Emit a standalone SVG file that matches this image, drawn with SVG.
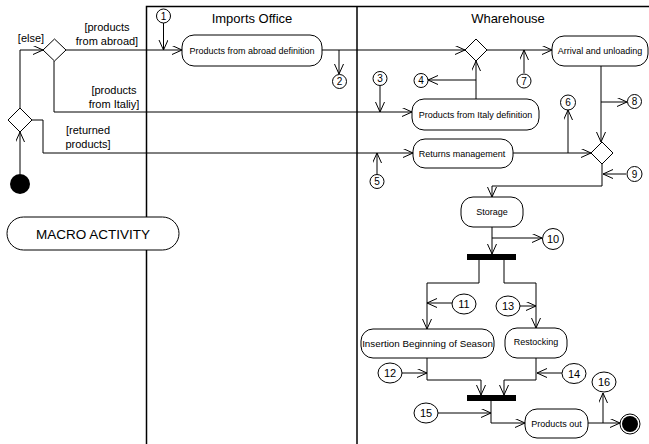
<svg xmlns="http://www.w3.org/2000/svg" width="649" height="444" viewBox="0 0 649 444">
<defs>
<marker id="arr" markerUnits="userSpaceOnUse" markerWidth="12" markerHeight="10" refX="10" refY="4.5" orient="auto">
<path d="M0,0 L10,4.5 L0,9" fill="none" stroke="#000" stroke-width="1"/>
</marker>
<style>
.lane{stroke:#000;stroke-width:1.5;fill:none}
.act{fill:#fff;stroke:#000;stroke-width:1}
.dec{fill:#fff;stroke:#000;stroke-width:1}
.num{fill:#fff;stroke:#000;stroke-width:1}
.c{fill:none;stroke:#000;stroke-width:1;marker-end:url(#arr)}
text{font-family:"Liberation Sans",Arial,sans-serif;fill:#000}
.at{font-size:9px;text-anchor:middle}
.gt{font-size:11px;text-anchor:middle}
.nt{font-size:10px;text-anchor:middle}
.nt2{font-size:11px;text-anchor:middle}
.lt{font-size:13px;text-anchor:middle}
</style>
</defs>
<rect width="649" height="444" fill="#fff"/>
<g id="lanes">
<path class="lane" d="M146.5,444 V6.5 H649"/>
<path class="lane" d="M357,6.5 V444"/>
<text class="lt" x="252" y="23">Imports Office</text>
<text class="lt" x="508" y="23">Wharehouse</text>
</g>
<g id="connectors">
<path class="c" d="M20,174 V132"/>
<path class="c" d="M20,108 V50 H43"/>
<path class="c" d="M66,50 H182"/>
<path class="c" d="M163.5,23 V50"/>
<path class="c" d="M54,61 V112 H412"/>
<path class="c" d="M32,120 H43 V153 H413"/>
<path class="c" d="M322,50 H465"/>
<path class="c" d="M339,50 V74"/>
<path class="c" d="M380,86 V112"/>
<path class="c" d="M476,99 V61"/>
<path class="c" d="M476,80 H428"/>
<path class="c" d="M487,50 H552"/>
<path class="c" d="M524,73 V50"/>
<path class="c" d="M377,174 V153"/>
<path class="c" d="M513,153 H591"/>
<path class="c" d="M568,153 V110"/>
<path class="c" d="M601,66 V142"/>
<path class="c" d="M601,102 H627"/>
<path class="c" d="M602,164 V186 H492 V197"/>
<path class="c" d="M626,174 H603"/>
<path class="c" d="M492,227 V254"/>
<path class="c" d="M492,238 H542"/>
<path class="c" d="M479,260 V283 H427 V329"/>
<path class="c" d="M452,303 H427"/>
<path class="c" d="M504,260 V283 H536 V328"/>
<path class="c" d="M520,306 H536"/>
<path class="c" d="M427,358 V380 H481 V395"/>
<path class="c" d="M402,373 H427"/>
<path class="c" d="M536,358 V380 H504 V395"/>
<path class="c" d="M562,373 H537"/>
<path class="c" d="M491,401 V423 H525"/>
<path class="c" d="M438,413 H491"/>
<path class="c" d="M588,423 H620"/>
<path class="c" d="M603,423 V393"/>
<text class="gt" x="31" y="42">[else]</text>
<text class="gt" x="107" y="31">[products</text>
<text class="gt" x="107" y="45">from abroad]</text>
<text class="gt" x="114" y="94">[products</text>
<text class="gt" x="114" y="108">from Italiy]</text>
<text class="gt" x="88" y="134">[returned</text>
<text class="gt" x="88" y="148">products]</text>
</g>
<g id="start"><circle cx="20" cy="184" r="10" fill="#000"/></g>
<g id="decision1"><path class="dec" d="M20,108 L32,120 L20,132 L8,120 Z"/></g>
<g id="decision2"><path class="dec" d="M54.5,39 L66,50 L54.5,61 L43,50 Z"/></g>
<g id="decision3"><path class="dec" d="M476,39 L487,50 L476,61 L465,50 Z"/></g>
<g id="decision4"><path class="dec" d="M602,142 L613,153 L602,164 L591,153 Z"/></g>
<g id="macro"><rect class="act" x="7" y="217" width="172" height="33" rx="16.5"/><text x="93" y="239" font-size="13.5" text-anchor="middle">MACRO ACTIVITY</text></g>
<g id="abroad"><rect class="act" x="182" y="35" width="140" height="31" rx="12"/><text class="at" x="252" y="53.5">Products from abroad definition</text></g>
<g id="arrival"><rect class="act" x="552" y="36" width="96" height="30" rx="12"/><text class="at" x="600" y="54">Arrival and unloading</text></g>
<g id="italy"><rect class="act" x="412" y="99" width="127" height="31" rx="12"/><text class="at" x="475.5" y="118">Products from Italy definition</text></g>
<g id="returns"><rect class="act" x="413" y="139" width="100" height="29" rx="12"/><text class="at" x="462" y="157">Returns management</text></g>
<g id="storage"><rect class="act" x="461" y="197" width="62" height="30" rx="12"/><text class="at" x="492" y="215">Storage</text></g>
<g id="fork1"><rect x="467" y="254" width="49" height="6" fill="#000"/></g>
<g id="insertion"><rect class="act" x="361" y="329" width="133" height="29" rx="12"/><text x="427.5" y="347" font-size="9.8" text-anchor="middle">Insertion Beginning of Season</text></g>
<g id="restocking"><rect class="act" x="505" y="328" width="62" height="30" rx="12"/><text class="at" x="536" y="345">Restocking</text></g>
<g id="join"><rect x="467" y="395" width="49" height="6" fill="#000"/></g>
<g id="productsout"><rect class="act" x="525" y="409" width="63" height="29" rx="12"/><text class="at" x="556.5" y="426.5">Products out</text></g>
<g id="end"><circle cx="630" cy="424" r="10" fill="#fff" stroke="#000" stroke-width="1"/><circle cx="630" cy="424" r="8" fill="#000"/></g>
<g id="n1"><circle class="num" cx="163.5" cy="16" r="7"/><text class="nt" x="163.5" y="19.5">1</text></g>
<g id="n2"><circle class="num" cx="339.5" cy="81.5" r="7"/><text class="nt" x="339.5" y="85">2</text></g>
<g id="n3"><circle class="num" cx="380" cy="78.5" r="7"/><text class="nt" x="380" y="82">3</text></g>
<g id="n4"><circle class="num" cx="421" cy="80.5" r="7"/><text class="nt" x="421" y="84">4</text></g>
<g id="n5"><circle class="num" cx="377" cy="181.5" r="7"/><text class="nt" x="377" y="185">5</text></g>
<g id="n6"><circle class="num" cx="568" cy="102.5" r="7.5"/><text class="nt" x="568" y="106">6</text></g>
<g id="n7"><circle class="num" cx="524" cy="81" r="7"/><text class="nt" x="524" y="84.5">7</text></g>
<g id="n8"><circle class="num" cx="634.5" cy="101.5" r="7"/><text class="nt" x="634.5" y="105">8</text></g>
<g id="n9"><circle class="num" cx="634.5" cy="174" r="7.5"/><text class="nt" x="634.5" y="177.5">9</text></g>
<g id="n10"><circle class="num" cx="553" cy="239" r="10.5"/><text class="nt2" x="553" y="243">10</text></g>
<g id="n11"><ellipse class="num" cx="464" cy="304" rx="12" ry="10"/><text class="nt2" x="464" y="308">11</text></g>
<g id="n12"><ellipse class="num" cx="390" cy="373" rx="12" ry="10"/><text class="nt2" x="390" y="377">12</text></g>
<g id="n13"><ellipse class="num" cx="508" cy="306" rx="12" ry="10"/><text class="nt2" x="508" y="310">13</text></g>
<g id="n14"><ellipse class="num" cx="574" cy="373.5" rx="12" ry="10"/><text class="nt2" x="574" y="377.5">14</text></g>
<g id="n15"><ellipse class="num" cx="426" cy="413" rx="12" ry="10"/><text class="nt2" x="426" y="417">15</text></g>
<g id="n16"><ellipse class="num" cx="604" cy="382" rx="12" ry="10"/><text class="nt2" x="604" y="386">16</text></g>
</svg>
